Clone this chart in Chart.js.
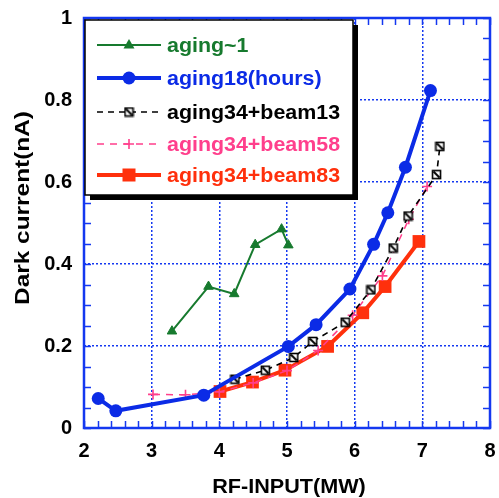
<!DOCTYPE html>
<html>
<head>
<meta charset="utf-8">
<script src="https://cdn.jsdelivr.net/npm/chart.js@4/dist/chart.umd.min.js"></script>
<style>
  html, body { margin: 0; padding: 0; background: #fff; }
  #wrap { width: 499px; height: 498px; position: relative; }
</style>
</head>
<body>
<div id="wrap"><canvas id="chart"></canvas></div>
<script>
// values: RF input (MW) vs dark current (nA)
var aging1X = [3.30, 3.84, 4.22, 4.53, 4.92, 5.02];
var aging1Y = [0.236, 0.345, 0.327, 0.447, 0.485, 0.446];

var aging18X = [2.21, 2.47, 3.77, 5.02, 5.43, 5.93, 6.28, 6.49, 6.75, 7.12];
var aging18Y = [0.072, 0.042, 0.080, 0.199, 0.252, 0.339, 0.448, 0.525, 0.636, 0.823];

var beam13X = [4.23, 4.68, 5.10, 5.38, 5.86, 6.24, 6.57, 6.79, 7.21, 7.26];
var beam13Y = [0.119, 0.141, 0.172, 0.211, 0.258, 0.337, 0.439, 0.517, 0.618, 0.687];

var beam58X = [3.02, 3.50, 4.00, 4.50, 5.00, 5.46, 5.97, 6.41, 6.80, 7.07];
var beam58Y = [0.082, 0.081, 0.088, 0.110, 0.140, 0.189, 0.275, 0.371, 0.509, 0.589];

var beam83X = [4.01, 4.49, 4.97, 5.60, 6.12, 6.45, 6.95];
var beam83Y = [0.089, 0.112, 0.141, 0.199, 0.281, 0.345, 0.455];

var seriesNames = ['aging~1', 'aging18(hours)', 'aging34+beam13', 'aging34+beam58', 'aging34+beam83'];
var xTitle = 'RF-INPUT(MW)';
var yTitle = 'Dark current(nA)';

var GREEN = '#177a2e', BLUE = '#0b2be6', BLACK = '#000000', PINK = '#ff3f8c', RED = '#ff300c';
var GRID = '#1438f0';
var FONT = "Arial, 'Liberation Sans', sans-serif";

function pts(xs, ys) {
  return xs.map(function (x, i) { return { x: x, y: ys[i] }; });
}

// boxed square with a slash, used for the beam13 series
function slashBox() {
  var c = document.createElement('canvas');
  c.width = 11; c.height = 11;
  var g = c.getContext('2d');
  g.fillStyle = '#fff';
  g.fillRect(1, 1, 9, 9);
  g.strokeStyle = '#000';
  g.lineWidth = 1.6;
  g.strokeRect(1.5, 1.5, 8, 8);
  g.beginPath();
  g.moveTo(2.5, 2.5); g.lineTo(8.5, 8.5);
  g.lineWidth = 2;
  g.stroke();
  return c;
}
var boxImg = slashBox();

var datasets = [
  { label: seriesNames[0], data: pts(aging1X, aging1Y), borderColor: GREEN, backgroundColor: GREEN,
    borderWidth: 2, pointStyle: 'triangle', pointRadius: 5.5, pointBorderWidth: 1 },
  { label: seriesNames[1], data: pts(aging18X, aging18Y), borderColor: BLUE, backgroundColor: BLUE,
    borderWidth: 4, pointStyle: 'circle', pointRadius: 6.5, pointBorderWidth: 0 },
  { label: seriesNames[2], data: pts(beam13X, beam13Y), borderColor: BLACK, backgroundColor: BLACK,
    borderWidth: 1.6, borderDash: [6, 5], pointStyle: boxImg },
  { label: seriesNames[3], data: pts(beam58X, beam58Y), borderColor: PINK, backgroundColor: PINK,
    borderWidth: 1.5, borderDash: [7, 6], pointStyle: 'cross', pointRadius: 5, pointBorderWidth: 1.6 },
  { label: seriesNames[4], data: pts(beam83X, beam83Y), borderColor: RED, backgroundColor: RED,
    borderWidth: 4, pointStyle: 'rect', pointRadius: 9, pointBorderWidth: 0 }
];

// inward minor ticks, frame
var framePlugin = {
  id: 'frame',
  afterDatasetsDraw: function (chart) {
    var ctx = chart.ctx, a = chart.chartArea;
    var xs = chart.scales.x, ys = chart.scales.y;
    ctx.save();
    ctx.strokeStyle = GRID;
    ctx.lineWidth = 1.5;
    var v, p;
    for (v = 2; v <= 8.001; v += 0.2) {
      p = Math.round(xs.getPixelForValue(v)) + 0.5;
      ctx.beginPath();
      ctx.moveTo(p, a.bottom); ctx.lineTo(p, a.bottom - 7);
      ctx.moveTo(p, a.top); ctx.lineTo(p, a.top + 7);
      ctx.stroke();
    }
    for (v = 0; v <= 1.001; v += 0.05) {
      p = Math.round(ys.getPixelForValue(v)) + 0.5;
      ctx.beginPath();
      ctx.moveTo(a.left, p); ctx.lineTo(a.left + 7, p);
      ctx.moveTo(a.right, p); ctx.lineTo(a.right - 7, p);
      ctx.stroke();
    }
    ctx.lineWidth = 2.5;
    ctx.strokeRect(a.left, a.top, a.right - a.left, a.bottom - a.top);
    ctx.restore();
  }
};

function drawMarker(ctx, i, x, y) {
  ctx.save();
  if (i === 0) {
    ctx.fillStyle = GREEN;
    ctx.beginPath();
    ctx.moveTo(x, y - 6); ctx.lineTo(x + 5.5, y + 3.5); ctx.lineTo(x - 5.5, y + 3.5);
    ctx.closePath(); ctx.fill();
  } else if (i === 1) {
    ctx.fillStyle = BLUE;
    ctx.beginPath(); ctx.arc(x, y, 6.5, 0, Math.PI * 2); ctx.fill();
  } else if (i === 2) {
    ctx.drawImage(boxImg, x - 5.5, y - 5.5);
  } else if (i === 3) {
    ctx.strokeStyle = PINK; ctx.lineWidth = 1.6;
    ctx.beginPath();
    ctx.moveTo(x - 5, y); ctx.lineTo(x + 5, y);
    ctx.moveTo(x, y - 5); ctx.lineTo(x, y + 5);
    ctx.stroke();
  } else {
    ctx.fillStyle = RED;
    ctx.fillRect(x - 6.5, y - 6.5, 13, 13);
  }
  ctx.restore();
}

// boxed legend inside the plot, plus axis titles
var legendPlugin = {
  id: 'boxLegend',
  afterDraw: function (chart) {
    var ctx = chart.ctx;
    var bx = 85, by = 20, bw = 268, bh = 175;
    ctx.save();
    ctx.fillStyle = '#000';
    ctx.fillRect(bx + 5, by + 5, bw, bh);
    ctx.fillStyle = '#fff';
    ctx.fillRect(bx, by, bw, bh);
    ctx.strokeStyle = '#000';
    ctx.lineWidth = 1.5;
    ctx.strokeRect(bx, by, bw, bh);
    var rows = [45, 78, 112, 144, 175];
    ctx.font = 'bold 20px ' + FONT;
    ctx.textBaseline = 'middle';
    chart.data.datasets.forEach(function (ds, i) {
      var y = rows[i];
      ctx.save();
      ctx.strokeStyle = ds.borderColor;
      ctx.lineWidth = ds.borderWidth;
      ctx.setLineDash(ds.borderDash || []);
      ctx.beginPath();
      ctx.moveTo(97, y); ctx.lineTo(161, y);
      ctx.stroke();
      ctx.restore();
      drawMarker(ctx, i, 129, y);
      ctx.fillStyle = ds.borderColor;
      ctx.save();
      ctx.translate(167, y + 1);
      ctx.scale(1.07, 1);
      ctx.fillText(ds.label, 0, 0);
      ctx.restore();
    });
    ctx.fillStyle = '#000';
    ctx.textAlign = 'center';
    ctx.save();
    ctx.translate(289, 487);
    ctx.scale(1.08, 1);
    ctx.fillText(xTitle, 0, 0);
    ctx.restore();
    ctx.save();
    ctx.translate(23, 208);
    ctx.rotate(-Math.PI / 2);
    ctx.scale(1.22, 1);
    ctx.fillText(yTitle, 0, 0);
    ctx.restore();
    ctx.restore();
  }
};

function tickFmt(v) { return String(Number(v.toFixed(1))); }

new Chart(document.getElementById('chart'), {
  type: 'line',
  data: { datasets: datasets },
  options: {
    responsive: true,
    maintainAspectRatio: false,
    animation: false,
    layout: { padding: { top: 18, right: 6, left: 0, bottom: 0 } },
    plugins: { legend: { display: false }, tooltip: { enabled: false } },
    elements: { line: { tension: 0 } },
    scales: {
      x: {
        type: 'linear', min: 2, max: 8,
        afterFit: function (s) { s.height = 70; s.paddingLeft = 0; s.paddingRight = 0; },
        ticks: { stepSize: 1, padding: 11, color: '#000', maxRotation: 0, callback: tickFmt,
                 font: { family: FONT, size: 20, weight: 'bold' } },
        grid: { color: GRID, lineWidth: 1.5, drawTicks: false },
        border: { display: false, dash: [2, 2] }
      },
      y: {
        min: 0, max: 1,
        afterFit: function (s) { s.width = 84; s.paddingTop = 0; s.paddingBottom = 0; },
        ticks: { stepSize: 0.2, padding: 12, color: '#000', callback: tickFmt,
                 font: { family: FONT, size: 20, weight: 'bold' } },
        grid: { color: GRID, lineWidth: 1.5, drawTicks: false },
        border: { display: false, dash: [2, 2] }
      }
    }
  },
  plugins: [framePlugin, legendPlugin]
});
</script>
</body>
</html>
